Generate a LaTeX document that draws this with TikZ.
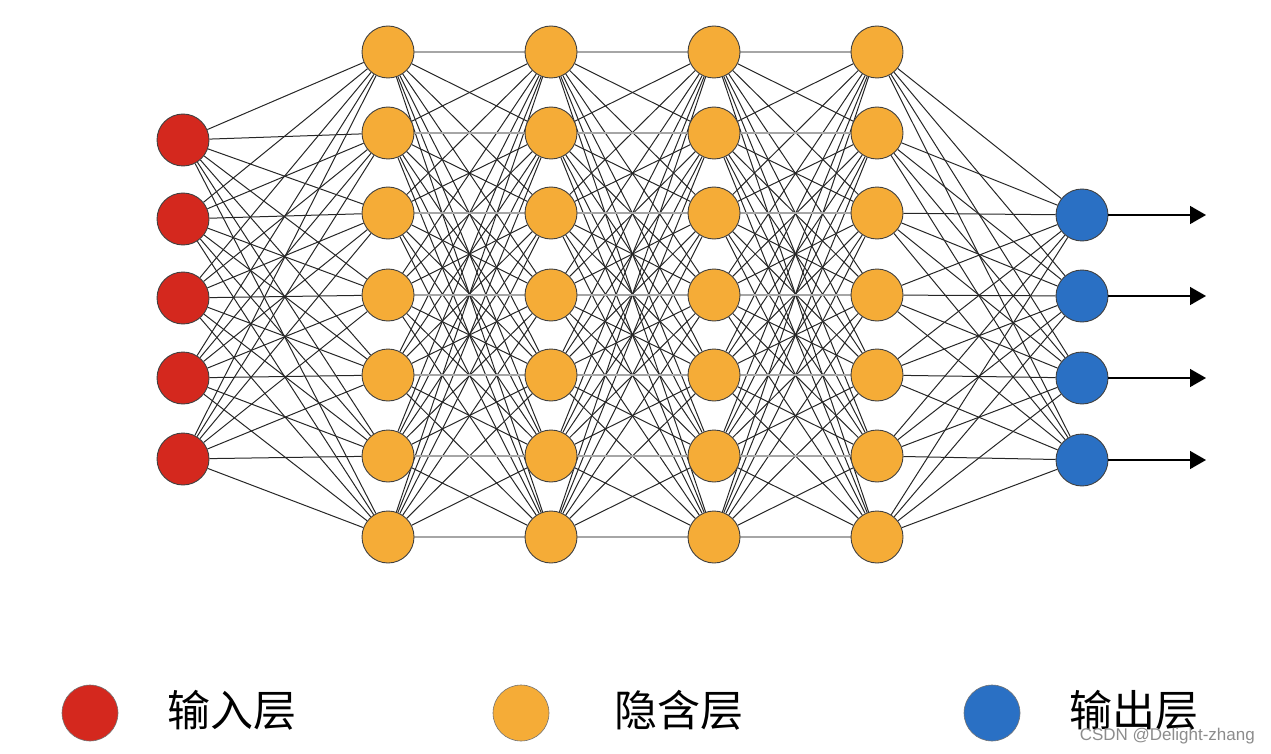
\documentclass[tikz,border=0pt]{standalone}
\usepackage{fontspec}
\setmainfont{Liberation Sans}
\newfontfamily\cjk{Noto Sans CJK SC}
\usetikzlibrary{arrows.meta,backgrounds}
\definecolor{inred}{RGB}{212,40,30}
\definecolor{hidorange}{RGB}{245,172,55}
\definecolor{outblue}{RGB}{42,112,196}
\tikzset{
  neuron/.style={circle,draw=black!75,line width=0.9pt,minimum size=52pt,inner sep=0pt},
  inneuron/.style={neuron,fill=inred},
  hidneuron/.style={neuron,fill=hidorange},
  outneuron/.style={neuron,fill=outblue},
  legdot/.style={circle,draw=black!55,line width=0.6pt,minimum size=56pt,inner sep=0pt},
  edge/.style={black!85,line width=1pt},
  flat/.style={black!35,line width=1.8pt},
  outarrow/.style={black,line width=1.4pt,-{Triangle[length=16pt,width=18pt]}},
  legtext/.style={font=\cjk\fontsize{43}{50}\selectfont,anchor=west,inner sep=0pt},
  wmark/.style={font=\fontsize{17}{20}\selectfont,text=black!45,anchor=east,inner sep=0pt}
}
\begin{document}
\begin{tikzpicture}[x=1pt,y=-1pt]
\useasboundingbox (0,0) rectangle (1271,754);
% input layer
\foreach \i/\y in {1/140,2/219,3/298,4/378,5/459}
  \node[inneuron] (i\i) at (183,\y) {};
% hidden layers
\foreach \l/\x in {1/388,2/551,3/714,4/877}
  \foreach \j/\y in {1/52,2/133,3/213,4/295,5/375,6/456,7/537}
    \node[hidneuron] (h\l-\j) at (\x,\y) {};
% output layer
\foreach \k/\y in {1/215,2/296,3/378,4/460}
  \node[outneuron] (o\k) at (1082,\y) {};
\begin{scope}[on background layer]
  \foreach \i in {1,...,5}
    \foreach \j in {1,...,7}
      \draw[edge] (i\i) -- (h1-\j);
  \foreach \l/\m in {1/2,2/3,3/4}
    \foreach \a in {1,...,7}
      \foreach \b in {1,...,7}
        \draw[edge] (h\l-\a) -- (h\m-\b);
  \foreach \l/\m in {1/2,2/3,3/4}
    \foreach \a in {1,...,7}
      \draw[flat] (h\l-\a) -- (h\m-\a);
  \foreach \a in {1,...,7}
    \foreach \k in {1,...,4}
      \draw[edge] (h4-\a) -- (o\k);
\end{scope}
% outputs
\foreach \k/\y in {1/215,2/296,3/378,4/460} {
  \coordinate (e\k) at (1206,\y);
  \draw[outarrow] (o\k) -- (e\k);
}
% legend
\node[legdot,fill=inred] (l1) at (90,713) {};
\node[legtext] (t1) at (167,710) {输入层};
\node[legdot,fill=hidorange] (l2) at (521,713) {};
\node[legtext] (t2) at (614,710) {隐含层};
\node[legdot,fill=outblue] (l3) at (992,713) {};
\node[legtext] (t3) at (1069,710) {输出层};
\node[wmark] (wm) at (1255,736) {CSDN @Delight-zhang};
\end{tikzpicture}
\end{document}
